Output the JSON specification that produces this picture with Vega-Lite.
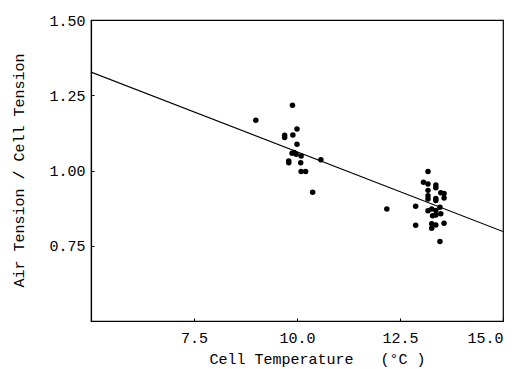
{
  "$schema": "https://vega.github.io/schema/vega-lite/v6.json",
  "width": 412,
  "height": 301,
  "autosize": "none",
  "padding": {"left": 91, "top": 20, "right": 20, "bottom": 48},
  "background": "white",
  "config": {
    "view": {"stroke": "black", "strokeWidth": 1.2},
    "font": "Liberation Mono",
    "axis": {
      "grid": false,
      "domainColor": "black",
      "tickColor": "black",
      "labelColor": "black",
      "titleColor": "black",
      "labelFont": "Liberation Mono",
      "titleFont": "Liberation Mono",
      "labelFontSize": 15,
      "titleFontSize": 15,
      "titleFontWeight": "normal",
      "tickSize": -3,
      "domainWidth": 1.2
    }
  },
  "datasets": {
    "points": [
      {"temp": 9.00, "ratio": 1.167},
      {"temp": 9.89, "ratio": 1.217},
      {"temp": 9.70, "ratio": 1.117},
      {"temp": 9.70, "ratio": 1.110},
      {"temp": 9.90, "ratio": 1.118},
      {"temp": 10.00, "ratio": 1.138},
      {"temp": 10.00, "ratio": 1.087},
      {"temp": 9.88, "ratio": 1.057},
      {"temp": 9.93, "ratio": 1.060},
      {"temp": 9.98, "ratio": 1.054},
      {"temp": 10.10, "ratio": 1.048},
      {"temp": 9.80, "ratio": 1.032},
      {"temp": 9.80, "ratio": 1.026},
      {"temp": 10.09, "ratio": 1.026},
      {"temp": 10.10, "ratio": 0.997},
      {"temp": 10.21, "ratio": 0.997},
      {"temp": 10.58, "ratio": 1.036},
      {"temp": 10.38, "ratio": 0.928},
      {"temp": 12.18, "ratio": 0.872},
      {"temp": 13.18, "ratio": 0.997},
      {"temp": 13.07, "ratio": 0.961},
      {"temp": 13.18, "ratio": 0.955},
      {"temp": 13.37, "ratio": 0.952},
      {"temp": 13.37, "ratio": 0.943},
      {"temp": 13.18, "ratio": 0.934},
      {"temp": 13.18, "ratio": 0.916},
      {"temp": 13.18, "ratio": 0.905},
      {"temp": 13.37, "ratio": 0.907},
      {"temp": 13.37, "ratio": 0.900},
      {"temp": 13.49, "ratio": 0.926},
      {"temp": 13.57, "ratio": 0.924},
      {"temp": 13.57, "ratio": 0.909},
      {"temp": 12.88, "ratio": 0.881},
      {"temp": 13.18, "ratio": 0.866},
      {"temp": 13.27, "ratio": 0.872},
      {"temp": 13.29, "ratio": 0.850},
      {"temp": 13.37, "ratio": 0.852},
      {"temp": 13.49, "ratio": 0.856},
      {"temp": 13.47, "ratio": 0.878},
      {"temp": 13.37, "ratio": 0.867},
      {"temp": 12.88, "ratio": 0.818},
      {"temp": 13.27, "ratio": 0.823},
      {"temp": 13.37, "ratio": 0.819},
      {"temp": 13.27, "ratio": 0.808},
      {"temp": 13.57, "ratio": 0.825},
      {"temp": 13.47, "ratio": 0.764}
    ],
    "fit": [
      {"temp": 5, "ratio": 1.327},
      {"temp": 15, "ratio": 0.797}
    ]
  },
  "layer": [
    {
      "data": {"name": "fit"},
      "mark": {"type": "line", "color": "black", "strokeWidth": 1.1, "clip": true},
      "encoding": {
        "x": {
          "field": "temp", "type": "quantitative",
          "scale": {"domain": [5, 15], "nice": false, "zero": false},
          "axis": {
            "values": [7.5, 10, 12.5, 15], "format": ".1f",
            "title": "Cell Temperature\u00a0\u00a0\u00a0(°C )",
            "labelPadding": 12,
            "titleX": 226, "titleY": 37, "titleBaseline": "middle", "titleAnchor": null
          }
        },
        "y": {
          "field": "ratio", "type": "quantitative",
          "scale": {"domain": [0.5, 1.5], "nice": false, "zero": false},
          "axis": {
            "values": [0.75, 1.0, 1.25, 1.5], "format": ".2f",
            "title": "Air Tension / Cell Tension",
            "labelPadding": 9,
            "titleX": -73, "titleY": 150, "titleBaseline": "middle", "titleAngle": -90
          }
        }
      }
    },
    {
      "data": {"name": "points"},
      "mark": {"type": "circle", "color": "black", "opacity": 1, "size": 30},
      "encoding": {
        "x": {"field": "temp", "type": "quantitative"},
        "y": {"field": "ratio", "type": "quantitative"}
      }
    }
  ]
}
